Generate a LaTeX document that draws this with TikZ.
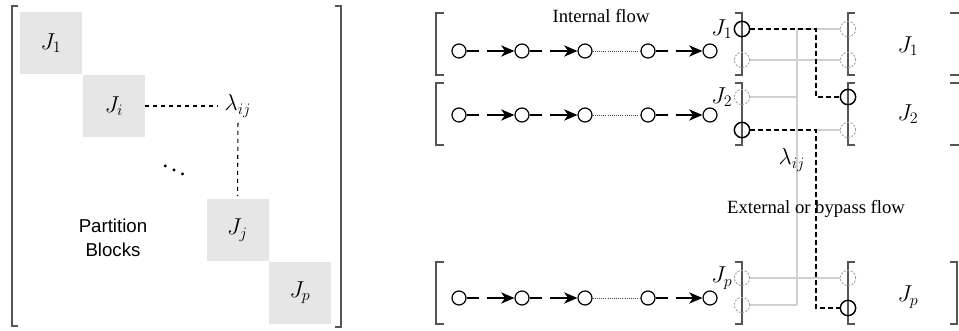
\documentclass[tikz,border=0pt]{standalone}
\usepackage{amsmath}
\usepackage{fontspec}
\setmainfont{Liberation Serif}
\setsansfont{Liberation Sans}
\usetikzlibrary{arrows.meta}

\definecolor{blockgray}{RGB}{230,230,230}
\definecolor{brackgray}{RGB}{85,85,85}
\definecolor{linegray}{RGB}{208,208,208}
\definecolor{ghostgray}{RGB}{160,160,160}

\tikzset{
  blk/.style={fill=blockgray, minimum size=46.5pt, inner sep=0pt, font=\fontsize{18}{21}\selectfont},
  brk/.style={draw=brackgray, line width=1.2pt},
  lbl/.style={font=\fontsize{18}{21}\selectfont},
  txt/.style={font=\fontsize{14}{17}\selectfont},
  st/.style={draw, circle, minimum size=10.5pt, inner sep=0pt, line width=0.9pt},
  hot/.style={draw, circle, minimum size=11.5pt, inner sep=0pt, line width=1.1pt},
  ghost/.style={draw=ghostgray, circle, dash pattern=on 1.5pt off 1.2pt, minimum size=11.5pt, inner sep=0pt, line width=0.7pt},
  flow/.style={line width=0.9pt, dash pattern=on 9pt off 6pt on 60pt, -{Stealth[length=10pt,width=8.5pt,inset=3pt]}},
  skip/.style={densely dotted, draw=darkgray, line width=0.6pt},
  bus/.style={draw=linegray, line width=1pt},
  bypass/.style={line width=0.9pt, dash pattern=on 3.5pt off 2.5pt},
}

\begin{document}
\begin{tikzpicture}[x=0.75pt,y=-0.75pt]
\useasboundingbox (0,0) rectangle (959,331);

% partition matrix
\draw[brk] (18,6) -- (12,6) -- (12,326) -- (18,326);
\draw[brk] (335,6) -- (341,6) -- (341,327) -- (335,327);
\node[blk] (blk1) at (51,43) {$J_1$};
\node[blk] (blki) at (114,106) {$J_i$};
\node[blk] (blkj) at (237.5,230) {$J_j$};
\node[blk] (blkp) at (300,292.5) {$J_p$};
\node[lbl, inner sep=1pt] (lam) at (238,106) {$\lambda_{ij}$};
\node[lbl] (dd) at (174,166) {$\ddots$};
\node[font=\sffamily\fontsize{14}{18}\selectfont, align=center] (pb) at (113,238) {Partition\\Blocks};
\draw[dashed, line width=0.8pt, shorten >=4pt] (blki.east) -- (lam.west);
\draw[dashed, line width=0.8pt, shorten <=3pt, shorten >=2pt] (lam.south) -- (blkj.north);

% flow rows
\foreach \r/\top/\bot/\cy/\ua/\ly/\rx in {1/13/75/51/29/46/960, 2/83/145/115/97/114/960, p/262/324/298/278/297/957} {
  \draw[brk] (444,\top) -- (436,\top) -- (436,\bot) -- (444,\bot);
  \node[st] (c\r1) at (459,\cy) {};
  \node[st] (c\r2) at (522,\cy) {};
  \node[st] (c\r3) at (585,\cy) {};
  \node[st] (c\r4) at (648,\cy) {};
  \node[st] (c\r5) at (710,\cy) {};
  \draw[flow] (c\r1) -- (c\r2);
  \draw[flow] (c\r2) -- (c\r3);
  \draw[skip] (c\r3) -- (c\r4);
  \draw[flow] (c\r4) -- (c\r5);
  \node[lbl, anchor=east, inner sep=1pt] (lab\r) at (734,\ua) {$J_\r$};
  \draw[brk] (735,\top) -- (742,\top) -- (742,\bot) -- (735,\bot);
  \draw[brk] (855,\top) -- (848,\top) -- (848,\bot) -- (855,\bot);
  \draw[brk] (950,\top) -- (\rx,\top) -- (\rx,\bot) -- (950,\bot);
  \node[lbl] (out\r) at (908,\ly) {$J_\r$};
}

% ports
\node[hot] (o1a) at (742,29) {};
\node[ghost] (o1b) at (742,60) {};
\node[ghost] (o2a) at (742,97) {};
\node[hot] (o2b) at (742,130) {};
\node[ghost] (opa) at (742,278) {};
\node[ghost] (opb) at (742,305) {};
\node[ghost] (i1a) at (848,29) {};
\node[ghost] (i1b) at (848,60) {};
\node[hot] (i2a) at (848,97) {};
\node[ghost] (i2b) at (848,130) {};
\node[ghost] (ipa) at (848,278) {};
\node[hot] (ipb) at (848,308) {};

\coordinate (busT) at (797,29);
\coordinate (busM) at (797,97);
\coordinate (busB) at (797,305);
\coordinate (kneeA) at (816,29);
\coordinate (kneeB) at (816,130);

\draw[bus] (busT) -- (i1a);
\draw[bus] (busT) -- (busB);
\draw[bus] (o2a) -- (busM);
\draw[bus] (opb) -- (busB);
\draw[bus] (o1b) -- (i1b);
\draw[bus] (opa) -- (ipa);
\draw[bus] (kneeB) -- (i2b);

\draw[bypass] (o1a) -- (kneeA) |- (i2a);
\draw[bypass] (o2b) -- (kneeB) |- (ipb);

\node[txt] (intl) at (601,16) {Internal flow};
\node[lbl] (lamr) at (792,160) {$\lambda_{ij}$};
\node[txt] (extl) at (816,209) {External or bypass flow};
\end{tikzpicture}
\end{document}
